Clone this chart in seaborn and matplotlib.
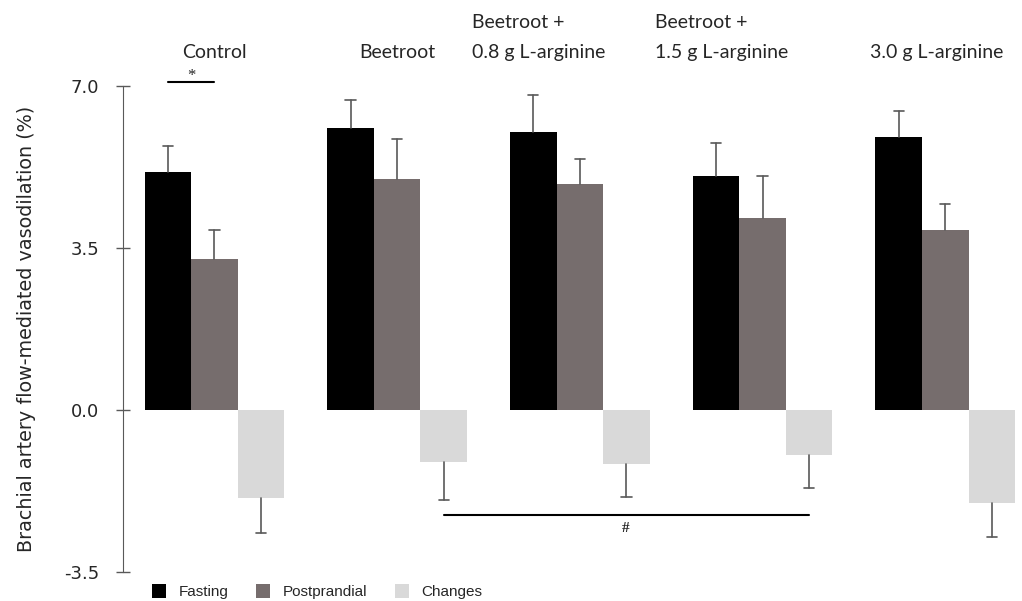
import pandas as pd
import matplotlib.pyplot as plt
import seaborn as sns

sns.set_style("white")
plt.rcParams['font.family'] = ['DejaVu Sans']

# values
groups = ['Control', 'Beetroot', 'Beetroot + 0.8 g', 'Beetroot + 1.5 g', '3.0 g']
group_labels = ['Control', 'Beetroot', 'Beetroot +\n0.8 g L-arginine',
                'Beetroot +\n1.5 g L-arginine', '3.0 g L-arginine']
series = ['Fasting', 'Postprandial', 'Changes']
fasting = [5.14, 6.09, 6.00, 5.05, 5.90]
postprandial = [3.26, 4.99, 4.88, 4.15, 3.89]
changes = [-1.90, -1.12, -1.17, -0.97, -2.01]
fasting_err = [0.56, 0.61, 0.80, 0.71, 0.56]
postprandial_err = [0.63, 0.86, 0.54, 0.91, 0.56]
changes_err = [0.76, 0.82, 0.71, 0.71, 0.73]

colors = ['#000000', '#766d6d', '#d9d9d9']

df = pd.DataFrame({
    'group': groups * 3,
    'series': [s for s in series for _ in groups],
    'value': fasting + postprandial + changes,
    'err': fasting_err + postprandial_err + changes_err,
})

fig = plt.figure(figsize=(10.22, 6.01), dpi=100)
ax = fig.add_axes([0.1204, 0.048, 0.8796, 0.809])

sns.barplot(data=df, x='group', y='value', hue='series', hue_order=series,
            palette=colors, width=0.765, errorbar=None, saturation=1,
            linewidth=0, ax=ax)

# one-sided error bars (single cap), placed on the bars seaborn drew
cap = 0.028
for container, s in zip(ax.containers, series):
    sub = df[df['series'] == s]
    for bar, v, e in zip(container, sub['value'], sub['err']):
        xc = bar.get_x() + bar.get_width() / 2
        end = v + e if v >= 0 else v - e
        ax.plot([xc, xc], [v, end], color='#595959', lw=1.2, zorder=3)
        ax.plot([xc - cap, xc + cap], [end, end], color='#595959', lw=1.2, zorder=3)

ax.set_xlim(-0.5, 4.42)
ax.set_ylim(-3.5, 7.0)
ax.set_yticks([-3.5, 0.0, 3.5, 7.0])
ax.set_yticklabels(['-3.5', '0.0', '3.5', '7.0'], fontsize=13)
ax.set_xticks([])
ax.set_xlabel('')
ax.set_ylabel('Brachial artery flow-mediated vasodilation (%)', fontsize=13.8, labelpad=20)
ax.tick_params(axis='y', left=True, direction='inout', length=10, width=1,
               color='#595959', pad=12)
for side in ['top', 'right', 'bottom']:
    ax.spines[side].set_visible(False)
ax.spines['left'].set_color('#595959')

# group labels above the plot
label_x = [0.0, 1.0, 1.41, 2.41, 3.59]
label_ha = ['center', 'center', 'left', 'left', 'left']
for lx, ha, txt in zip(label_x, label_ha, group_labels):
    lines = txt.split('\n')
    ax.text(lx, 7.73, lines[-1], ha=ha, va='center', fontsize=14,
            family='Lato', clip_on=False)
    if len(lines) > 1:
        ax.text(lx, 8.38, lines[0], ha=ha, va='center', fontsize=14,
                family='Lato', clip_on=False)

# significance markers
ax.plot([-0.255, 0.0], [7.09, 7.09], color='black', lw=1.5, clip_on=False)
ax.text(-0.128, 7.22, '*', ha='center', va='center', fontsize=12, family='Liberation Serif')
ax.plot([1.255, 3.255], [-2.27, -2.27], color='black', lw=1.5)
ax.text(2.25, -2.55, '#', ha='center', va='center', fontsize=11,
        fontweight='bold', family='Liberation Serif')

# legend below the axes
handles, labels = ax.get_legend_handles_labels()
ax.legend(handles, labels, loc='lower left', bbox_to_anchor=(0.135, -0.02),
          bbox_transform=fig.transFigure, ncol=3, frameon=False,
          handlelength=0.95, handleheight=0.95, handletextpad=0.8,
          columnspacing=1.8, prop={'family': 'Liberation Sans', 'size': 11})

fig.savefig('out.png', dpi=100)
